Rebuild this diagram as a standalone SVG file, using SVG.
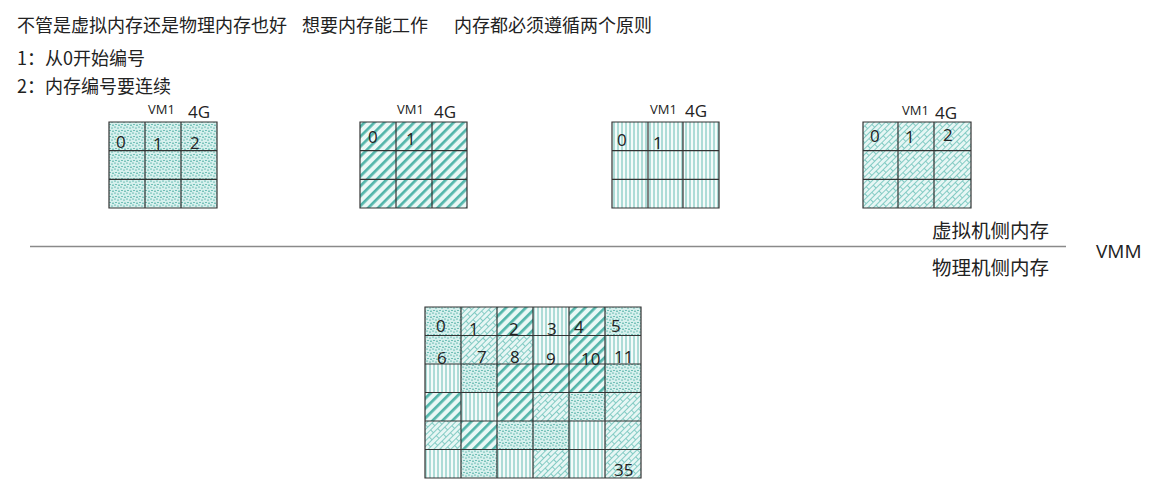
<svg xmlns="http://www.w3.org/2000/svg" width="1172" height="491" viewBox="0 0 1172 491">
<style>
.cn{font-family:"Noto Sans CJK SC","Noto Sans",sans-serif;font-size:18px;fill:#222}
.num{font-family:"Open Sans","Noto Sans",sans-serif;font-size:17px;fill:#222}
.vm{font-family:"Open Sans","Noto Sans",sans-serif;font-size:13px;fill:#222}
.cap{font-family:"Open Sans","Noto Sans",sans-serif;font-size:17px;fill:#222}
.grid{fill:none;stroke:#333;stroke-width:1.2}
.sep{stroke:#8a8a8a;stroke-width:1.5}
</style>
<defs>
<pattern id="pDots" width="6" height="6" patternUnits="userSpaceOnUse">
<rect width="6" height="6" fill="#d6f0ed"/>
<ellipse cx="1" cy="1" rx="0.9" ry="0.6" fill="#3fa79c"/>
<ellipse cx="4" cy="2" rx="0.9" ry="0.6" fill="#3fa79c"/>
<ellipse cx="2" cy="4.5" rx="0.9" ry="0.6" fill="#3fa79c"/>
<ellipse cx="5" cy="5.2" rx="0.9" ry="0.6" fill="#3fa79c"/>
</pattern>
<pattern id="pDiag" width="7" height="7" patternUnits="userSpaceOnUse" patternTransform="rotate(45)">
<rect width="7" height="7" fill="#eaf8f6"/>
<rect x="0" width="2.7" height="7" fill="#52b5aa"/>
</pattern>
<pattern id="pVert" width="4" height="4" patternUnits="userSpaceOnUse">
<rect width="4" height="4" fill="#f5fbfa"/>
<line x1="2" y1="0" x2="2" y2="4" stroke="#66bdb4" stroke-width="1"/>
</pattern>
<pattern id="pBrick" width="12" height="8" patternUnits="userSpaceOnUse" patternTransform="rotate(-45)">
<rect width="12" height="8" fill="#e6f6f4"/>
<path d="M0 0.5H12M0 4.5H12M0.5 0.5V4.5M6.5 4.5V8" stroke="#78c6be" stroke-width="0.9" fill="none"/>
</pattern>
</defs>

<g id="intro">
<text class="cn" x="17" y="32">不管是虚拟内存还是物理内存也好</text>
<text class="cn" x="302" y="32">想要内存能工作</text>
<text class="cn" x="454" y="32">内存都必须遵循两个原则</text>
<text class="cn" x="17" y="65">1：从0开始编号</text>
<text class="cn" x="17" y="93">2：内存编号要连续</text>
</g>

<g id="vm-a">
<text class="vm" x="148" y="114">VM1</text>
<text class="cap" x="188" y="118">4G</text>
<rect x="109" y="122" width="108" height="86" fill="url(#pDots)"/>
<path class="grid" d="M109 122H217V208H109Z M145 122V208 M181 122V208 M109 150.7H217 M109 179.3H217"/>
<text class="num" x="116" y="148">0</text>
<text class="num" x="153" y="150">1</text>
<text class="num" x="190" y="149">2</text>
</g>

<g id="vm-b">
<text class="vm" x="397" y="114">VM1</text>
<text class="cap" x="434" y="118">4G</text>
<rect x="360" y="122" width="107" height="86" fill="url(#pDiag)"/>
<path class="grid" d="M360 122H467V208H360Z M396 122V208 M432 122V208 M360 150.7H467 M360 179.3H467"/>
<text class="num" x="368" y="143">0</text>
<text class="num" x="406" y="145">1</text>
</g>

<g id="vm-c">
<text class="vm" x="650" y="114">VM1</text>
<text class="cap" x="685" y="117">4G</text>
<rect x="612" y="122" width="107" height="86" fill="url(#pVert)"/>
<path class="grid" d="M612 122H719V208H612Z M648 122V208 M683 122V208 M612 150.7H719 M612 179.3H719"/>
<text class="num" x="617" y="146">0</text>
<text class="num" x="653" y="149">1</text>
</g>

<g id="vm-d">
<text class="vm" x="902" y="115">VM1</text>
<text class="cap" x="935" y="119">4G</text>
<rect x="863" y="122" width="108" height="86" fill="url(#pBrick)"/>
<path class="grid" d="M863 122H971V208H863Z M898 122V208 M934 122V208 M863 150.7H971 M863 179.3H971"/>
<text class="num" x="870" y="142">0</text>
<text class="num" x="905" y="143">1</text>
<text class="num" x="943" y="141">2</text>
</g>

<g id="connectors">
<line class="sep" x1="30" y1="246.5" x2="1066" y2="246.5"/>
</g>

<g id="labels">
<text class="cn" x="932" y="238" style="font-size:19.5px">虚拟机侧内存</text>
<text class="cn" x="932" y="275" style="font-size:19.5px">物理机侧内存</text>
<text class="cap" x="1096" y="258" style="font-size:19px">VMM</text>
</g>

<g id="physical">
<g id="row0">
<rect x="425" y="307" width="36" height="28.5" fill="url(#pDots)"/>
<rect x="461" y="307" width="36" height="28.5" fill="url(#pBrick)"/>
<rect x="497" y="307" width="36" height="28.5" fill="url(#pDiag)"/>
<rect x="533" y="307" width="36" height="28.5" fill="url(#pVert)"/>
<rect x="569" y="307" width="36" height="28.5" fill="url(#pDiag)"/>
<rect x="605" y="307" width="36" height="28.5" fill="url(#pDots)"/>
</g>
<g id="row1">
<rect x="425" y="335.5" width="36" height="28.5" fill="url(#pDots)"/>
<rect x="461" y="335.5" width="36" height="28.5" fill="url(#pBrick)"/>
<rect x="497" y="335.5" width="36" height="28.5" fill="url(#pBrick)"/>
<rect x="533" y="335.5" width="36" height="28.5" fill="url(#pVert)"/>
<rect x="569" y="335.5" width="36" height="28.5" fill="url(#pDiag)"/>
<rect x="605" y="335.5" width="36" height="28.5" fill="url(#pVert)"/>
</g>
<g id="row2">
<rect x="425" y="364" width="36" height="28.5" fill="url(#pVert)"/>
<rect x="461" y="364" width="36" height="28.5" fill="url(#pDots)"/>
<rect x="497" y="364" width="36" height="28.5" fill="url(#pDiag)"/>
<rect x="533" y="364" width="36" height="28.5" fill="url(#pDiag)"/>
<rect x="569" y="364" width="36" height="28.5" fill="url(#pDiag)"/>
<rect x="605" y="364" width="36" height="28.5" fill="url(#pDots)"/>
</g>
<g id="row3">
<rect x="425" y="392.5" width="36" height="28.5" fill="url(#pDiag)"/>
<rect x="461" y="392.5" width="36" height="28.5" fill="url(#pVert)"/>
<rect x="497" y="392.5" width="36" height="28.5" fill="url(#pDiag)"/>
<rect x="533" y="392.5" width="36" height="28.5" fill="url(#pBrick)"/>
<rect x="569" y="392.5" width="36" height="28.5" fill="url(#pDots)"/>
<rect x="605" y="392.5" width="36" height="28.5" fill="url(#pBrick)"/>
</g>
<g id="row4">
<rect x="425" y="421" width="36" height="28.5" fill="url(#pBrick)"/>
<rect x="461" y="421" width="36" height="28.5" fill="url(#pDiag)"/>
<rect x="497" y="421" width="36" height="28.5" fill="url(#pDots)"/>
<rect x="533" y="421" width="36" height="28.5" fill="url(#pDots)"/>
<rect x="569" y="421" width="36" height="28.5" fill="url(#pVert)"/>
<rect x="605" y="421" width="36" height="28.5" fill="url(#pBrick)"/>
</g>
<g id="row5">
<rect x="425" y="449.5" width="36" height="28.5" fill="url(#pVert)"/>
<rect x="461" y="449.5" width="36" height="28.5" fill="url(#pDots)"/>
<rect x="497" y="449.5" width="36" height="28.5" fill="url(#pVert)"/>
<rect x="533" y="449.5" width="36" height="28.5" fill="url(#pBrick)"/>
<rect x="569" y="449.5" width="36" height="28.5" fill="url(#pVert)"/>
<rect x="605" y="449.5" width="36" height="28.5" fill="url(#pBrick)"/>
</g>
<path class="grid" d="M425 307H641V478H425Z M461 307V478 M497 307V478 M533 307V478 M569 307V478 M605 307V478 M425 335.5H641 M425 364H641 M425 392.5H641 M425 421H641 M425 449.5H641"/>
<text class="num" x="436" y="332">0</text>
<text class="num" x="469" y="335">1</text>
<text class="num" x="509" y="335">2</text>
<text class="num" x="547" y="335">3</text>
<text class="num" x="574" y="333">4</text>
<text class="num" x="611" y="332">5</text>
<text class="num" x="437" y="364">6</text>
<text class="num" x="477" y="363">7</text>
<text class="num" x="510" y="363">8</text>
<text class="num" x="546" y="365">9</text>
<text class="num" x="581" y="365">10</text>
<text class="num" x="614" y="363">11</text>
<text class="num" x="614" y="476">35</text>
</g>
</svg>
